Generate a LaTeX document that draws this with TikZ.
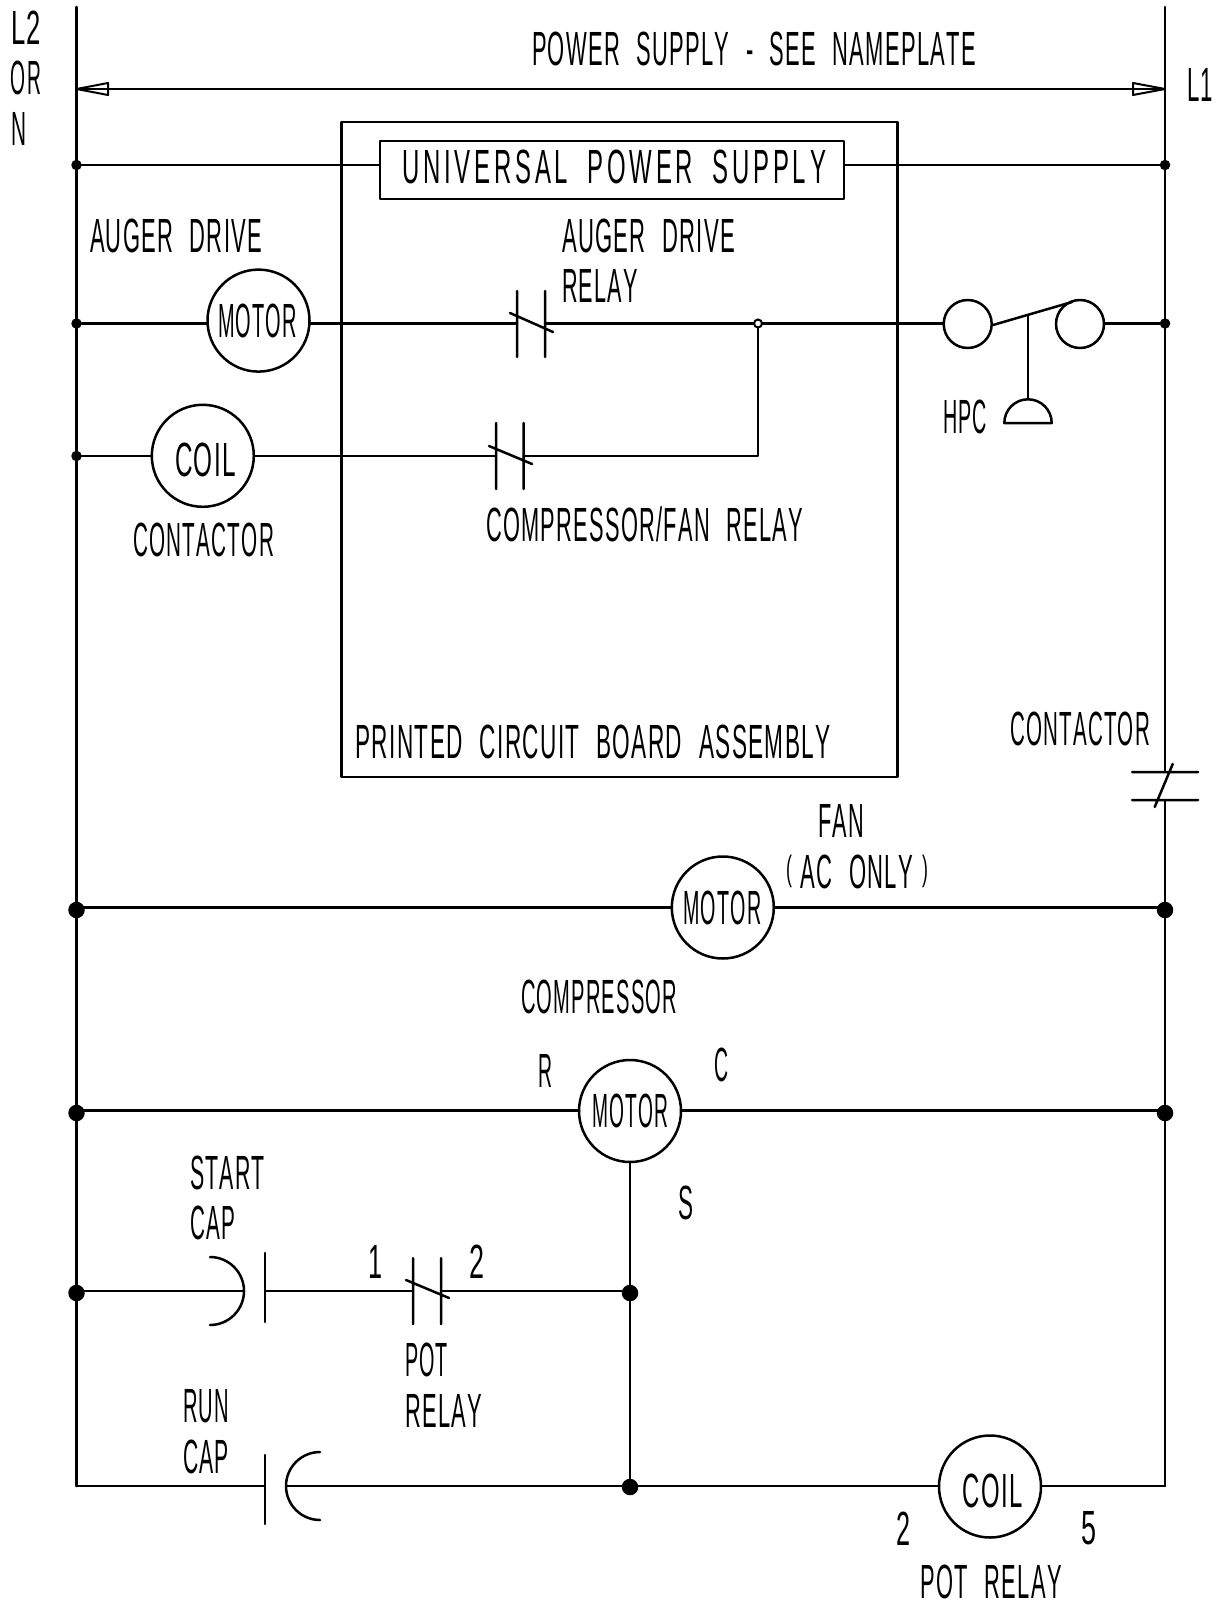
\documentclass[tikz,border=0pt]{standalone}
\usepackage{graphicx}
\usepackage{fontspec}
\setmainfont[LetterSpace=6,Kerning=Off]{Liberation Sans}
\newcommand{\lab}[5]{\node[lbl] (#1) at (#2,#3) {\resizebox{#4pt}{\height}{#5}};}
\newcommand{\gap}{\hspace{0.75em}}
\newcommand{\pr}[1]{\raisebox{0.153em}{\scalebox{0.8}[0.73]{#1}}}
\tikzset{
  wire/.style={line width=2.5pt,line cap=round,line join=round,black},
  lbl/.style={anchor=base west,inner sep=0pt,outer sep=0pt,font=\fontsize{48}{48}\selectfont},
  load/.style={draw,wire,circle,minimum size=102pt,inner sep=0pt,outer sep=0pt},
  dotS/.style={circle,fill=black,draw=none,minimum size=10.5pt,inner sep=0pt,outer sep=0pt},
  dotL/.style={circle,fill=black,draw=none,minimum size=16.5pt,inner sep=0pt,outer sep=0pt},
  dotO/.style={circle,fill=white,draw=black,line width=2pt,minimum size=8pt,inner sep=0pt,outer sep=0pt},
  port/.style={circle,draw,wire,minimum size=48pt,inner sep=0pt,outer sep=0pt},
  pcb/.style={draw,wire,inner sep=0pt,outer sep=0pt}
}
\begin{document}
\begin{tikzpicture}[x=1pt,y=-1pt]
\useasboundingbox[fill=white] (0,0) rectangle (1225,1602);

% rails and junction coordinates
\coordinate (LT) at (76.5,7);
\coordinate (LB) at (76.5,1486);
\coordinate (RT) at (1165,7);
\coordinate (RB) at (1165,1486);
\coordinate (CU) at (1165,772);
\coordinate (CD) at (1165,800);
\draw[wire] (LT) -- (LB);
\draw[wire] (RT) -- (CU) (CD) -- (RB);

% printed circuit board
\node[pcb,minimum width=556pt,minimum height=655pt] (PCB) at (619.5,449.5) {};
\node[pcb,minimum width=464pt,minimum height=58pt] (UPS) at (612,170) {};

% loads
\node[load] (M1) at (258.5,320.6) {};
\node[load] (K1) at (202.8,455.8) {};
\node[load] (M2) at (722.8,907.5) {};
\node[load] (M3) at (630,1111) {};
\node[load] (K2) at (990,1486.5) {};

% HPC
\node[port] (P1) at (967.7,324) {};
\node[port] (P2) at (1080,324) {};

% junctions
\node[dotS] (a1) at (76.5,165) {};
\node[dotS] (a2) at (1165,165) {};
\node[dotS] (b1) at (76.5,323.5) {};
\node[dotS] (b2) at (1165,323.5) {};
\node[dotS] (c1) at (76.5,456) {};
\node[dotL] (d1) at (76.5,910) {};
\node[dotL] (d2) at (1165,910) {};
\node[dotL] (e1) at (76.5,1113) {};
\node[dotL] (e2) at (1165,1113) {};
\node[dotL] (f1) at (76.5,1293) {};
\node[dotL] (f2) at (630,1293) {};
\node[dotL] (g2) at (630,1487) {};
\node[dotO] (J) at (758,323.5) {};

% contact coordinates
\coordinate (AL) at (517,323.5);
\coordinate (AR) at (545,323.5);
\coordinate (CL) at (496,456);
\coordinate (CR) at (523.5,456);
\coordinate (JC) at (758,456);
\coordinate (SC) at (244,1291);
\coordinate (SP) at (265,1291);
\coordinate (PL) at (413,1291);
\coordinate (PR) at (441,1291);
\coordinate (RP) at (265,1486);
\coordinate (RC) at (286,1486);
\coordinate (d0) at (76.5,907.3);
\coordinate (e0) at (76.5,1110.7);
\coordinate (f0) at (76.5,1291);

% wires
\draw[wire] (a1) -- (UPS.west |- a1);
\draw[wire] (UPS.east |- a2) -- (a2);
\draw[wire] (b1) -- (b1 -| M1.west);
\draw[wire] (b1 -| M1.east) -- (AL);
\draw[wire] (AR) -- (J);
\draw[wire] (J) -- (J -| P1.west);
\draw[wire] (b2 -| P2.east) -- (b2);
\draw[wire] (J) -- (JC) -- (CR);
\draw[wire] (c1) -- (c1 -| K1.west);
\draw[wire] (c1 -| K1.east) -- (CL);
\draw[wire] (d0) -- (d0 -| M2.west);
\draw[wire] (d0 -| M2.east) -- (d0 -| d2);
\draw[wire] (e0) -- (e0 -| M3.west);
\draw[wire] (e0 -| M3.east) -- (e0 -| e2);
\draw[wire] (M3.south) -- (g2);
\draw[wire] (f0) -- (SC);
\draw[wire] (SP) -- (PL);
\draw[wire] (PR) -- (PR -| f2);
\draw[wire] (LB) -- (RP);
\draw[wire] (RC) -- (K2.west |- RC);
\draw[wire] (K2.east |- RC) -- (RB);

% relay contacts
\draw[wire] (517,291) -- (517,357) (545,291) -- (545,357) (510,313) -- (553,332);
\draw[wire] (496,423) -- (496,489) (523.5,423) -- (523.5,489) (489,446) -- (532,464);
\draw[wire] (413,1258) -- (413,1324) (441,1258) -- (441,1324) (406,1280) -- (449,1298);
\draw[wire] (1132,772) -- (1198,772) (1132,800) -- (1198,800) (1172.7,764) -- (1154.7,807);

% capacitors
\draw[wire] (265,1253) -- (265,1322);
\draw[wire] (210,1257) arc[start angle=90,end angle=-90,radius=34pt];
\draw[wire] (265,1455) -- (265,1524);
\draw[wire] (320,1452) arc[start angle=90,end angle=270,radius=34pt];

% pressure switch
\draw[wire] (993,325) -- (1072,302);
\draw[wire] (1028,315) -- (1028,399);
\draw[wire] (1004.3,423) arc[start angle=180,end angle=0,radius=23.7pt] -- cycle;

% dimension line
\coordinate (AW) at (108,89);
\coordinate (AE) at (1133,89);
\draw[wire] (AW) -- (AE);
\draw[wire,line width=2pt,fill=white] (76.5,89) -- (108,83) -- (108,95) -- cycle;
\draw[wire,line width=2pt,fill=white] (1165,89) -- (1133,83) -- (1133,95) -- cycle;
\draw[wire,line width=2pt] (108,89) -- (80,89);
\draw[wire,line width=2pt] (1133,89) -- (1161,89);

% labels
\lab{t1}{11}{45}{30}{L2}
\lab{t2}{11}{95}{30}{OR}
\lab{t3}{11}{146}{15}{N}
\lab{t4}{532}{65.5}{444}{POWER\gap SUPPLY\gap -\gap SEE\gap NAMEPLATE}
\lab{t5}{1187}{102}{26}{L1}
\lab{t6}{402}{184}{424}{\addfontfeature{LetterSpace=16}UNIVERSAL\hspace{0.8em}POWER\hspace{0.8em}SUPPLY}
\lab{t7}{90}{253}{172}{AUGER\gap DRIVE}
\lab{t8}{562}{253}{173}{AUGER\gap DRIVE}
\lab{t9}{562}{303}{76}{RELAY}
\lab{t10}{133}{556}{141}{CONTACTOR}
\lab{t11}{486}{541.5}{317}{COMPRESSOR/FAN\gap RELAY}
\lab{t12}{355.5}{758}{475}{PRINTED\gap CIRCUIT\gap BOARD\gap ASSEMBLY}
\lab{t13}{1010}{745}{140}{CONTACTOR}
\lab{t14}{818}{837}{46}{FAN}
\lab{t15}{786}{888}{142}{\pr{(}\hspace{0.4em}AC\gap ONLY\hspace{0.4em}\pr{)}}
\lab{t16}{521}{1013.5}{156}{COMPRESSOR}
\lab{t17}{538.5}{1087}{14}{R}
\lab{t18}{714}{1081}{14}{C}
\lab{t19}{678}{1219}{15}{S}
\lab{t20}{190}{1189}{75}{START}
\lab{t21}{190}{1239}{45}{CAP}
\lab{t22}{368}{1278}{14}{1}
\lab{t23}{469}{1278}{15}{2}
\lab{t24}{405}{1376}{43}{POT}
\lab{t25}{405}{1427}{77}{RELAY}
\lab{t26}{183}{1422}{46}{RUN}
\lab{t27}{183}{1473}{46}{CAP}
\lab{t28}{896}{1545}{14}{2}
\lab{t29}{1081.7}{1544}{15}{5}
\lab{t30}{920.7}{1598}{141}{POT\gap RELAY}
\lab{t32}{943}{433}{44}{HPC}
\lab{m1}{218}{337}{79}{MOTOR}
\lab{m2}{683.3}{924}{78}{MOTOR}
\lab{m3}{592}{1127}{76}{MOTOR}
\lab{k1}{175}{476}{61}{COIL}
\lab{k2}{962.7}{1507}{60}{COIL}
\end{tikzpicture}
\end{document}
